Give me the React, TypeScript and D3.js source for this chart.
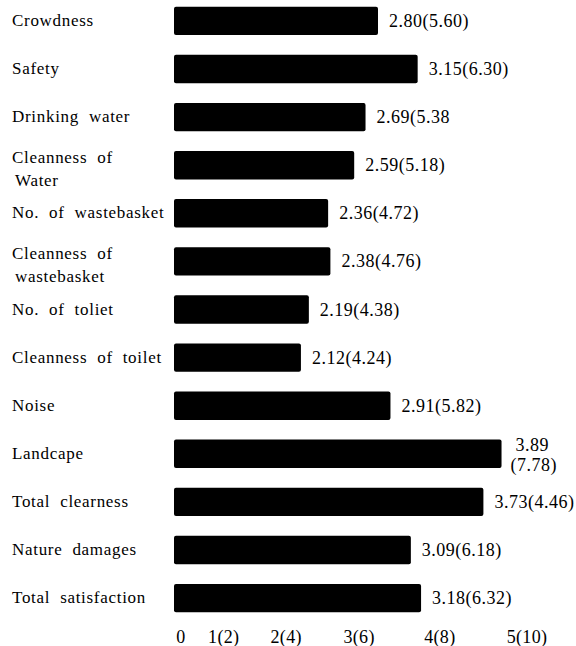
import React, { useEffect } from "react";
import * as d3 from "d3";

const categories = [
  "Crowdness",
  "Safety",
  "Drinking water",
  "Cleanness of\nWater",
  "No. of wastebasket",
  "Cleanness of\nwastebasket",
  "No. of toliet",
  "Cleanness of toilet",
  "Noise",
  "Landcape",
  "Total clearness",
  "Nature damages",
  "Total satisfaction",
];

const scores = [2.8, 3.15, 2.69, 2.59, 2.36, 2.38, 2.19, 2.12, 2.91, 3.89, 3.73, 3.09, 3.18];

const scoreLabels = [
  "2.80(5.60)",
  "3.15(6.30)",
  "2.69(5.38",
  "2.59(5.18)",
  "2.36(4.72)",
  "2.38(4.76)",
  "2.19(4.38)",
  "2.12(4.24)",
  "2.91(5.82)",
  "3.89\n(7.78)",
  "3.73(4.46)",
  "3.09(6.18)",
  "3.18(6.32)",
];

const tickValues = [0, 1, 2, 3, 4, 5];
const tickLabels = ["0", "1(2)", "2(4)", "3(6)", "4(8)", "5(10)"];

const W = 576;
const H = 646;
const SERIF = "'Liberation Serif', 'DejaVu Serif', serif";

export default function App() {
  useEffect(() => {
    document.body.style.margin = "0";
  }, []);

  const y = d3
    .scaleBand<string>()
    .domain(categories)
    .range([0, 619])
    .paddingInner(0.41)
    .paddingOuter(0.14);
  const x = d3.scaleLinear().domain([1, 4]).range([174, 514]);
  const axis = d3.scalePow().exponent(1.3).domain([0, 5]).range([181, 527]);

  return (
    <svg
      width={W}
      height={H}
      viewBox={`0 0 ${W} ${H}`}
      style={{ display: "block", position: "absolute", left: 0, top: 0, background: "#fff" }}
    >
      <rect x={0} y={0} width={W} height={H} fill="#fff" />
      {categories.map((c, i) => {
        const top = y(c) as number;
        const bw = y.bandwidth();
        const cy = top + bw / 2;
        const lines = c.split("\n");
        const vLines = scoreLabels[i].split("\n");
        const xEnd = x(scores[i]);
        return (
          <g key={c}>
            <rect x={x(1)} y={top} width={xEnd - x(1)} height={bw} rx={2} fill="#000" />
            <text
              fontFamily={SERIF}
              fontSize={17}
              letterSpacing={0.7}
              wordSpacing={5}
              fill="#000"
            >
              {lines.length === 1 ? (
                <tspan x={12} y={cy + 5}>
                  {lines[0]}
                </tspan>
              ) : (
                lines.map((l, k) => (
                  <tspan key={k} x={k === 0 ? 12 : 15} y={cy - 2 + k * 23}>
                    {l}
                  </tspan>
                ))
              )}
            </text>
            <text fontFamily={SERIF} fontSize={18} letterSpacing={0.5} fill="#000">
              {vLines.length === 1 ? (
                <tspan x={xEnd + 11} y={cy + 6}>
                  {vLines[0]}
                </tspan>
              ) : (
                vLines.map((l, k) => (
                  <tspan key={k} x={xEnd + (k === 0 ? 14 : 9)} y={cy - 3 + k * 20}>
                    {l}
                  </tspan>
                ))
              )}
            </text>
          </g>
        );
      })}
      {tickValues.map((t, i) => (
        <text
          key={t}
          x={axis(t)}
          y={643}
          textAnchor="middle"
          fontFamily={SERIF}
          fontSize={18}
          letterSpacing={0.3}
          fill="#000"
        >
          {tickLabels[i]}
        </text>
      ))}
    </svg>
  );
}
